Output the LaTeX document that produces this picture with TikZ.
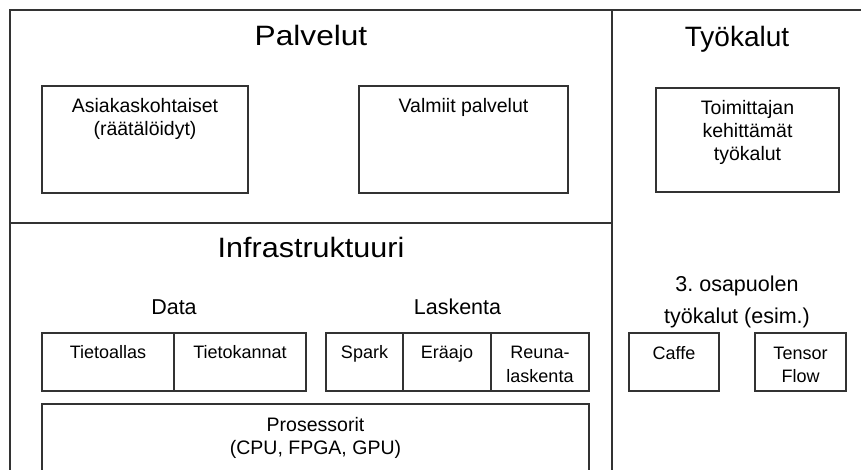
\documentclass[tikz,border=0pt]{standalone}
\usepackage{fontspec}
\setmainfont{Liberation Sans}
\frenchspacing
\begin{document}
\begin{tikzpicture}[x=1pt, y=-1pt,
  frame/.style={draw=black!80, line width=1.2pt},
  box/.style={draw=black!80, line width=1.1pt, inner sep=0pt, fill=none},
  title/.style={anchor=base, inner sep=0pt, font=\fontsize{28}{32}\selectfont},
  subtitle/.style={anchor=base, inner sep=0pt, align=center, font=\fontsize{21.5}{32}\selectfont},
  bigtext/.style={anchor=base, inner sep=0pt, align=center, font=\fontsize{19.5}{23}\selectfont},
  smalltext/.style={anchor=base, inner sep=0pt, align=center, font=\fontsize{18}{23.5}\selectfont}]
% page area
\clip (0,0) rectangle (861,470);
\fill[white] (0,0) rectangle (861,470);

% outer frame and dividers
\draw[frame] (10,490) -- (10,10) -- (880,10);
\draw[frame] (612,10) -- (612,490);
\draw[frame] (10,223) -- (612,223);

% section titles (base anchor = baseline of the last line)
\node[title] (palvelut) at (311,46) {\scalebox{1.13}[1]{Palvelut}};
\node[title] (tyokalut) at (737,46.5) {Työkalut};
\node[title] (infra) at (311,258) {\scalebox{1.09}[1]{Infrastruktuuri}};
\node[subtitle] (data) at (174,314) {Data};
\node[subtitle] (laskenta) at (457.5,314) {Laskenta};
\node[subtitle] (kolmas) at (737,323) {3. osapuolen\\työkalut (esim.)};

% services
\node[box, minimum width=206pt, minimum height=107pt] (asiak) at (145,139.5) {};
\node[bigtext] (asiakT) at (145,135.5) {Asiakaskohtaiset\\(räätälöidyt)};
\node[box, minimum width=209pt, minimum height=107pt] (valmiit) at (463.5,139.5) {};
\node[bigtext] (valmiitT) at (463.5,112.5) {Valmiit palvelut};

% vendor tools
\node[box, minimum width=183pt, minimum height=104pt] (toim) at (747.5,140) {};
\node[bigtext] (toimT) at (747.5,160.5) {Toimittajan\\kehittämät\\työkalut};

% data row
\node[box, minimum width=132pt, minimum height=58pt] (allas) at (108,362) {};
\node[smalltext] (allasT) at (108,358.5) {Tietoallas};
\node[box, minimum width=132pt, minimum height=58pt] (kannat) at (240,362) {};
\node[smalltext] (kannatT) at (240,358.5) {Tietokannat};

% computing row
\node[box, minimum width=77pt, minimum height=58pt] (spark) at (364.5,362) {};
\node[smalltext] (sparkT) at (364.5,358.5) {Spark};
\node[box, minimum width=88pt, minimum height=58pt] (eraajo) at (447,362) {};
\node[smalltext] (eraajoT) at (447,358.5) {Eräajo};
\node[box, minimum width=98pt, minimum height=58pt] (reuna) at (540,362) {};
\node[smalltext] (reunaT) at (540,382) {Reuna-\\laskenta};

% processors
\node[box, minimum width=547pt, minimum height=86pt] (proses) at (315.5,447) {};
\node[bigtext] (prosesT) at (315.5,454) {Prosessorit\\(CPU, FPGA, GPU)};

% third-party tools
\node[box, minimum width=90pt, minimum height=58pt] (caffe) at (674,362) {};
\node[smalltext] (caffeT) at (674,359) {Caffe};
\node[box, minimum width=91pt, minimum height=58pt] (tensor) at (800.5,362) {};
\node[smalltext] (tensorT) at (800.5,382.5) {Tensor\\Flow};
\end{tikzpicture}
\end{document}
